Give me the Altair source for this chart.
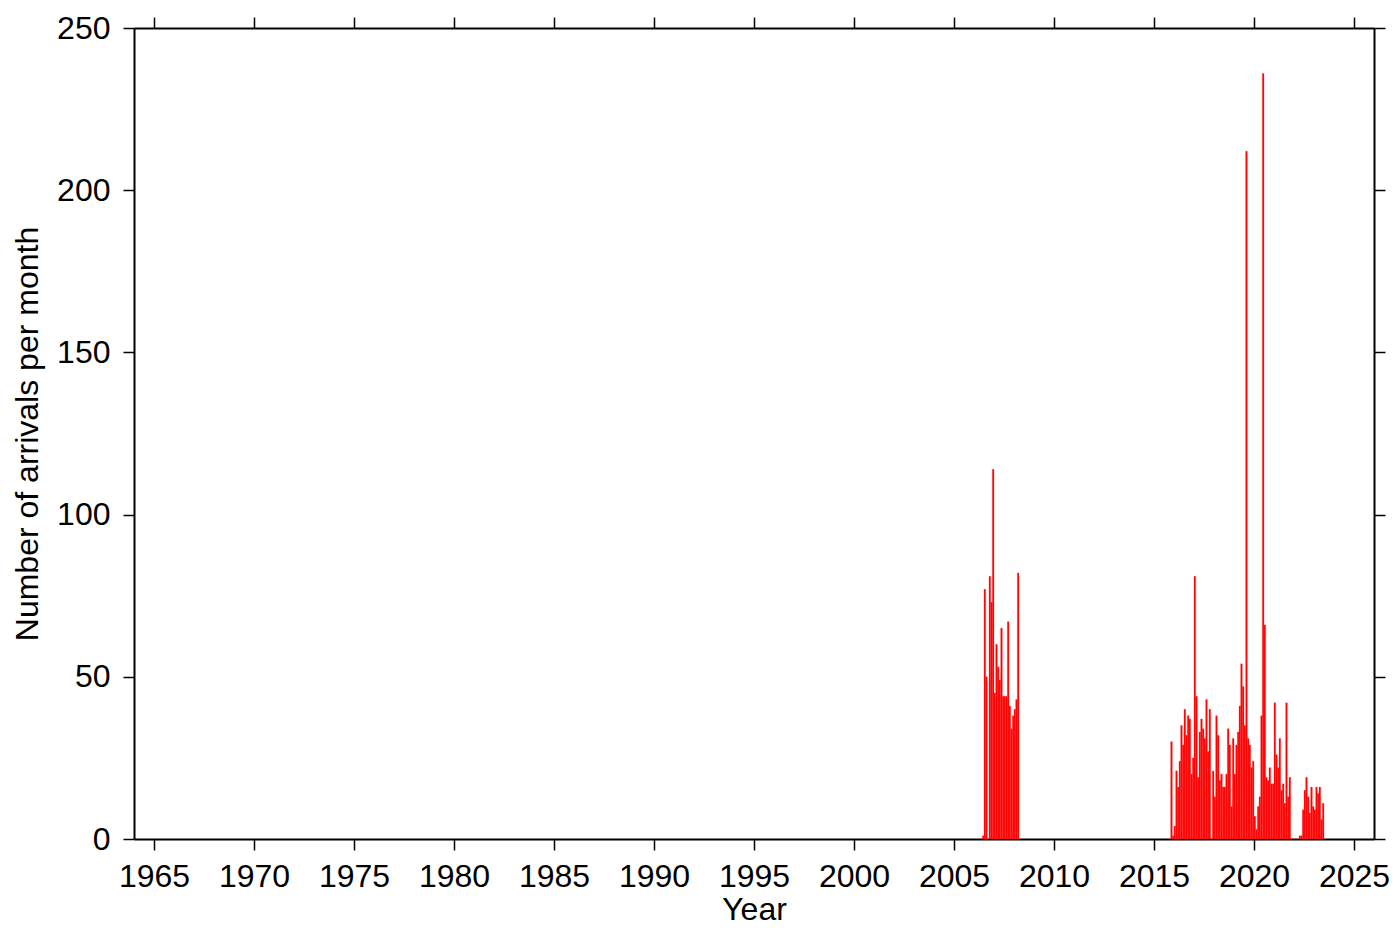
import altair as alt
import pandas as pd

# Monthly arrival counts, first burst: June 2006 .. March 2008
burst1_start_year = 2006
burst1_start_month = 6
burst1_counts = [1, 77, 50, 0, 81, 73, 114, 45, 60, 53, 49, 65, 44, 44, 44, 67,
                 41, 34, 38, 40, 43, 82]

# Monthly arrival counts, second burst: November 2015 .. June 2023
burst2_start_year = 2015
burst2_start_month = 11
burst2_counts = [30, 1, 4, 21, 16, 24, 35, 29, 40, 32, 38, 37, 20, 25, 81, 44,
                 19, 33, 37, 34, 31, 43, 27, 40, 0, 21, 13, 38, 32, 18, 20, 16,
                 16, 20, 34, 29, 10, 31, 20, 29, 33, 41, 54, 47, 35, 212, 31, 29,
                 22, 24, 7, 3, 10, 13, 38, 236, 66, 19, 18, 22, 17, 17, 42, 26,
                 22, 31, 15, 17, 11, 42, 13, 19, 0, 0, 0, 0, 0, 1, 1, 9,
                 15, 19, 13, 8, 16, 10, 9, 16, 14, 16, 6, 11]

x_ticks = list(range(1965, 2030, 5))
y_ticks = [0, 50, 100, 150, 200, 250]
x_domain = [1964, 2026]
y_domain = [0, 250]

rows = []
for sy, sm, counts in [(burst1_start_year, burst1_start_month, burst1_counts),
                       (burst2_start_year, burst2_start_month, burst2_counts)]:
    for i, c in enumerate(counts):
        m = sm - 1 + i
        t = sy + m / 12.0
        rows.append({"t0": t, "t1": t + 1 / 12.0, "n": c, "zero": 0})
df = pd.DataFrame(rows)

FONT = "Liberation Sans"
PLOT_W = 1240
PLOT_H = 811

xscale = alt.Scale(domain=x_domain, nice=False, zero=False)
yscale = alt.Scale(domain=y_domain, nice=False, zero=True)

bars = alt.Chart(df).mark_rect(color="#ff0000", stroke="#ff2a2a", strokeWidth=0.3).encode(
    x=alt.X("t0:Q", scale=xscale,
            axis=alt.Axis(values=x_ticks, format="d", title="Year", orient="bottom",
                          labelPadding=11, labelFlush=False, labelOverlap=False,
                          titleX=PLOT_W / 2, titleY=80, titleBaseline="alphabetic",
                          titleAlign="center")),
    x2="t1:Q",
    y=alt.Y("n:Q", scale=yscale,
            axis=alt.Axis(values=y_ticks, title="Number of arrivals per month",
                          orient="left", labelPadding=13, labelFlush=False,
                          labelOverlap=False, titleAngle=270, titleX=-97,
                          titleY=PLOT_H / 2, titleBaseline="alphabetic",
                          titleAlign="center")),
    y2="zero:Q",
)

frame = alt.Chart(df).mark_rect(opacity=0).encode(
    x=alt.X("t0:Q", scale=xscale,
            axis=alt.Axis(values=x_ticks, orient="top", labels=False, title=None)),
    x2="t1:Q",
    y=alt.Y("n:Q", scale=yscale,
            axis=alt.Axis(values=y_ticks, orient="right", labels=False, title=None)),
    y2="zero:Q",
)

chart = alt.layer(bars, frame).resolve_axis(x="independent", y="independent").properties(
    width=PLOT_W,
    height=PLOT_H,
    padding={"left": 126, "top": 20, "right": 18, "bottom": 90},
    autosize=alt.AutoSizeParams(type="none"),
    background="white",
).configure_view(stroke=None).configure_axis(
    labelFont=FONT,
    labelFontSize=32,
    labelColor="black",
    titleFont=FONT,
    titleFontSize=32,
    titleFontWeight="normal",
    titleColor="black",
    domainColor="black",
    domainWidth=2,
    tickColor="black",
    tickWidth=1.5,
    tickSize=11,
    grid=False,
)

chart.save("out.html", embed_options={"renderer": "svg", "actions": False})
